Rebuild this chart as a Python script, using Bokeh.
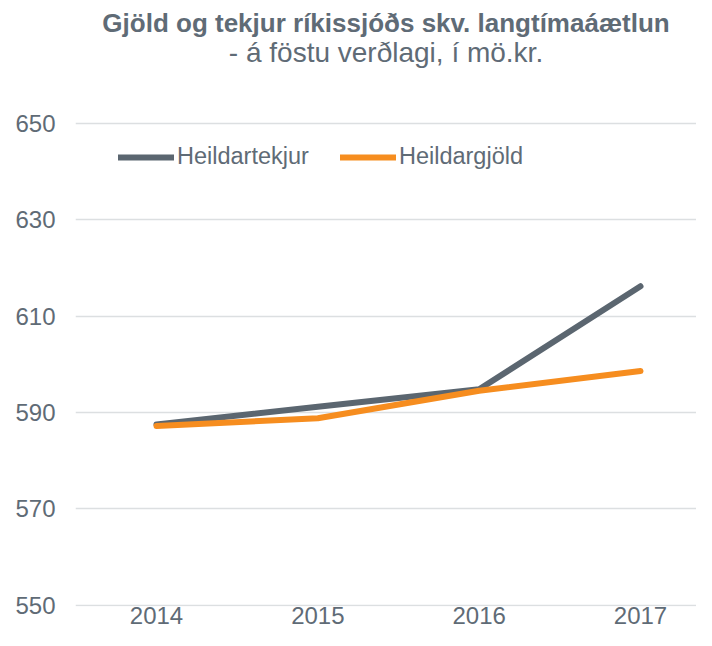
from bokeh.plotting import figure
from bokeh.models import Range1d, FixedTicker, Title, Legend, LegendItem, ColumnDataSource
from bokeh.embed import file_html
from bokeh.resources import INLINE

years = [2014, 2015, 2016, 2017]
heildartekjur = [587.5, 591.2, 594.8, 616.2]
heildargjold = [587.2, 588.8, 594.5, 598.6]
y_ticks = [550, 570, 590, 610, 630, 650]

TEXT = "#5f6b76"
GRAY = "#5b6670"
ORANGE = "#f68d1f"
FONT = "Liberation Sans"

p = figure(width=696, height=630, output_backend="svg", toolbar_location=None,
           x_range=Range1d(2013.498, 2017.347), y_range=Range1d(549.7, 661.0),
           min_border_left=75, min_border_right=0, min_border_bottom=24, min_border_top=70)
p.outline_line_color = None
p.background_fill_color = "white"
p.border_fill_color = "white"

p.add_layout(Title(text="- á föstu verðlagi, í mö.kr.", text_font=FONT, text_font_size="28px",
                   text_font_style="normal", text_color=TEXT, align="center", standoff=6), "above")
p.add_layout(Title(text="Gjöld og tekjur ríkissjóðs skv. langtímaáætlun", text_font=FONT,
                   text_font_size="26px", text_font_style="bold", text_color=TEXT,
                   align="center", standoff=-12, offset=-5), "above")

src = ColumnDataSource(dict(x=years, t=heildartekjur, g=heildargjold))
r1 = p.line("x", "t", source=src, line_color=GRAY, line_width=6, line_cap="round", line_join="round")
r2 = p.line("x", "g", source=src, line_color=ORANGE, line_width=6, line_cap="round", line_join="round")

legend = Legend(items=[LegendItem(label="Heildartekjur", renderers=[r1]),
                       LegendItem(label="Heildargjöld", renderers=[r2])],
                orientation="horizontal", location=(43, 436),
                border_line_color=None, background_fill_alpha=0,
                label_text_font=FONT, label_text_font_size="23.5px", label_text_color=TEXT,
                glyph_width=56, label_standoff=3, spacing=31, padding=0, margin=0)
p.add_layout(legend)

p.xaxis.ticker = FixedTicker(ticks=years)
p.yaxis.ticker = FixedTicker(ticks=y_ticks)
for ax in (p.xaxis, p.yaxis):
    ax.axis_line_color = None
    ax.major_tick_line_color = None
    ax.minor_tick_line_color = None
    ax.major_tick_out = 0
    ax.major_tick_in = 0
    ax.minor_tick_out = 0
    ax.major_label_text_font = FONT
    ax.major_label_text_font_size = "24px"
    ax.major_label_text_color = TEXT
p.yaxis.major_label_standoff = 20
p.xaxis.major_label_standoff = 0

p.xgrid.grid_line_color = None
p.ygrid.grid_line_color = "#dcdfe1"
p.ygrid.grid_line_width = 1.5

open("out.html", "w").write(file_html(p, INLINE))
